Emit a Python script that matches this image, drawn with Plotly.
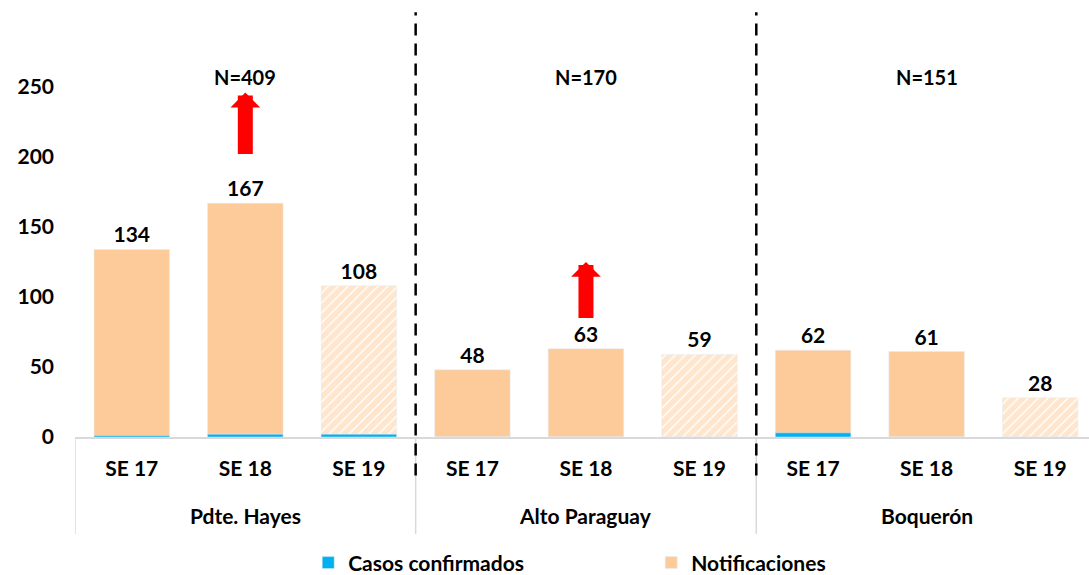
import plotly.graph_objects as go

# data
departamentos = ["Pdte. Hayes", "Alto Paraguay", "Boquerón"]
semanas = ["SE 17", "SE 18", "SE 19"]
notificaciones = [134, 167, 108, 48, 63, 59, 62, 61, 28]
confirmados = [1, 2, 2, 0, 0, 0, 3, 0, 0]
totales = ["N=409", "N=170", "N=151"]
parcial = [False, False, True, False, False, True, False, False, True]  # SE 19 incompleta

PEACH = "#FDCB9A"
BLUE = "#00B0F0"
FONT = "Lato"

xpos = list(range(len(notificaciones)))
ticktext = semanas * len(departamentos)

fig = go.Figure()
fig.add_trace(go.Bar(
    x=xpos, y=notificaciones, name="Notificaciones",
    marker=dict(
        color=PEACH,
        pattern=dict(
            shape=["/" if p else "" for p in parcial],
            fgcolor=PEACH, bgcolor="white", size=7, solidity=0.8,
        ),
    ),
    text=notificaciones, textposition="outside", cliponaxis=False,
    textfont=dict(family=FONT, size=21, color="black", weight="bold"),
))
fig.add_trace(go.Bar(
    x=xpos, y=confirmados, name="Casos confirmados",
    marker_color=BLUE,
))

# group labels, N totals, dividers
for i, (dep, n) in enumerate(zip(departamentos, totales)):
    mid = i * 3 + 1
    fig.add_annotation(x=mid, y=-0.183, xref="x", yref="paper", text=dep,
                       showarrow=False, yanchor="middle",
                       font=dict(family=FONT, size=21, color="black", weight="bold"))
    fig.add_annotation(x=mid, y=257, xref="x", yref="y", text=n,
                       showarrow=False, yanchor="middle",
                       font=dict(family=FONT, size=20, color="black", weight="bold"))
    fig.add_shape(type="line", xref="x", yref="paper", x0=i * 3 - 0.5, x1=i * 3 - 0.5,
                  y0=0, y1=-0.227, line=dict(color="#D9D9D9", width=1.5))
    if i > 0:
        fig.add_shape(type="line", xref="x", yref="paper", x0=i * 3 - 0.5, x1=i * 3 - 0.5,
                      y0=-0.09, y1=0.995, line=dict(color="black", width=2.5, dash="12px,8px"))

# red arrows (increase)
for xa, y0, y1 in [(1, 201, 246), (4, 84, 125)]:
    fig.add_annotation(x=xa, y=y1, ax=xa, ay=y0, xref="x", yref="y", axref="x", ayref="y",
                       text="", showarrow=True, arrowhead=1, arrowsize=0.33,
                       arrowwidth=15, arrowcolor="#FF0000")

fig.update_layout(
    width=1089, height=575,
    margin=dict(l=75, r=0, t=10, b=138, autoexpand=False),
    paper_bgcolor="white", plot_bgcolor="white",
    barmode="overlay", bargap=0.335,
    showlegend=True,
    legend=dict(orientation="h", x=0.23, xanchor="left", y=-0.295, yanchor="middle",
                entrywidth=298, entrywidthmode="pixels", traceorder="reversed",
                font=dict(family=FONT, size=21, color="black", weight="bold")),
    xaxis=dict(range=[-0.5, 8.43], tickvals=xpos, ticktext=ticktext,
               showline=True, linecolor="#D9D9D9", linewidth=1.5, showgrid=False,
               ticks="", ticklabelstandoff=12,
               tickfont=dict(family=FONT, size=21, color="black", weight="bold")),
    yaxis=dict(range=[0, 305], tickvals=[0, 50, 100, 150, 200, 250], showgrid=False,
               zeroline=False, showline=False, ticks="", ticklabelstandoff=20,
               tickfont=dict(family=FONT, size=21, color="black", weight="bold")),
)

# page body has a default 8px margin; remove it so the figure fills the window
fig.write_html("out.html", config={"displayModeBar": False},
               post_script="document.body.style.margin = '0';")
